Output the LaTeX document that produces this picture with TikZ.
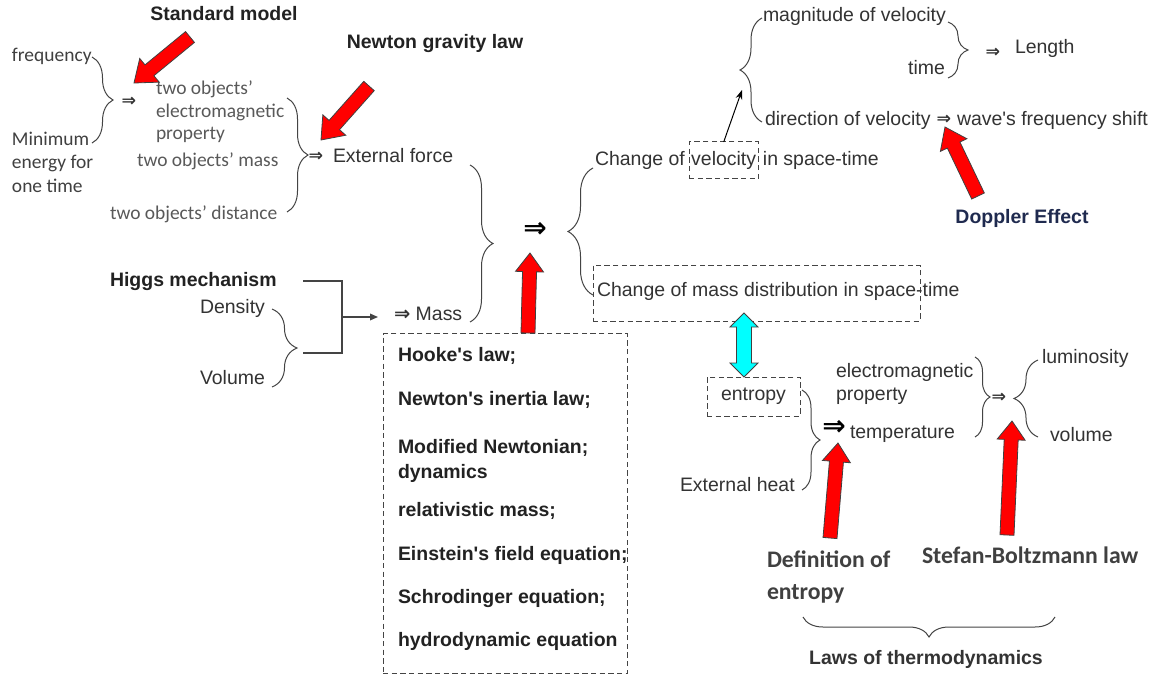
\documentclass[tikz,border=0pt]{standalone}
\usepackage{fontspec}
\setmainfont{Liberation Sans}
\newfontfamily\calfont{Carlito}
\newfontfamily\djfont{DejaVu Sans}
\usetikzlibrary{calc,decorations.pathreplacing,arrows.meta}
\definecolor{txt}{HTML}{333333}
\definecolor{ctxt}{HTML}{595959}
\definecolor{dtxt}{HTML}{404040}
\definecolor{btxt}{HTML}{222222}
\definecolor{navy}{HTML}{1F2A4F}
\definecolor{lines}{HTML}{444444}
\definecolor{redc}{RGB}{255,0,0}
\definecolor{cyanc}{RGB}{0,255,255}
\newcommand{\blockarrow}[6][redarrow]{%
  \coordinate (#2-h) at ($(#3)!#6!(#2)$);
  \filldraw[#1] ($(#2)!#4!90:(#3)$) -- ($(#2-h)!#4!90:(#3)$) -- ($(#2-h)!#5!90:(#3)$) -- (#3)
    -- ($(#2-h)!#5!-90:(#3)$) -- ($(#2-h)!#4!-90:(#3)$) -- ($(#2)!#4!-90:(#3)$) -- cycle;}
\tikzset{
  every node/.style={inner sep=0pt, outer sep=0pt},
  ar/.style={font=\fontsize{14.6}{17.6}\selectfont, text=txt},
  arb/.style={font=\bfseries\fontsize{14.6}{17.6}\selectfont, text=btxt},
  cal/.style={font=\calfont\fontsize{14.6}{16.9}\selectfont, text=ctxt},
  calb/.style={font=\calfont\bfseries\fontsize{17.8}{24}\selectfont, text=dtxt},
  sym/.style={font=\djfont\bfseries\fontsize{13}{13}\selectfont, text=txt},
  bigsym/.style={font=\djfont\bfseries\fontsize{21}{21}\selectfont, text=black},
  brc/.style={draw=lines, line width=0.75pt, decorate, decoration={brace, amplitude=#1}},
  dashbox/.style={draw=lines, line width=0.75pt, dash pattern=on 4pt off 2.5pt},
  conn/.style={draw=lines, line width=0.9pt},
  redarrow/.style={fill=redc, draw=black!75, line width=0.6pt, line join=miter},
  cyanarrow/.style={fill=cyanc, draw=black!75, line width=0.6pt, line join=miter}
}
\begin{document}
\begin{tikzpicture}[x=0.75pt, y=-0.75pt]
\fill[white] (0,0) rectangle (1153,675);
\useasboundingbox (0,0) rectangle (1153,675);

% ---------- top left ----------
\node[arb, anchor=mid] (sm) at (224,17) {Standard model};
\node[cal, text=dtxt, anchor=mid west] (freq) at (12,58) {frequency};
\node[cal, text=dtxt, anchor=north west, align=left, font=\calfont\fontsize{14.6}{17.6}\selectfont] (minen) at (12,132) {Minimum\\energy for\\one time};
\draw[brc=15.75pt] (92,57) -- (92,143);
\node[sym] (r1) at (129,102) {⇒};
\node[cal, anchor=north west, align=left] (emprop) at (156,81) {two objects’\\electromagnetic\\property};
\node[cal, anchor=mid west] (omass) at (137,163) {two objects’ mass};
\node[cal, anchor=mid west] (odist) at (110,216) {two objects’ distance};
\draw[brc=15.75pt] (287,98) -- (287,212);
\node[sym] (r2) at (316,157) {⇒};
\node[ar, anchor=mid west] (ef) at (333,159) {External force};
\node[arb] (ng) at (435,44) {Newton gravity law};
\coordinate (smT) at (190,37); \coordinate (smP) at (134,83);
\blockarrow{smT}{smP}{5.25pt}{11.5pt}{15pt}
\coordinate (ngT) at (369,86); \coordinate (ngP) at (321,140);
\blockarrow{ngT}{ngP}{5.25pt}{11.5pt}{15pt}

% ---------- middle ----------
\draw[brc=17.25pt] (470,165) -- (470,322);
\node[bigsym] (r0) at (535,230) {⇒};
\coordinate (maT) at (528,333); \coordinate (maP) at (530,253);
\blockarrow{maT}{maP}{5.25pt}{10.5pt}{14pt}

\node[arb, anchor=mid west] (higgs) at (110,283) {Higgs mechanism};
\node[ar, anchor=mid west] (dens) at (200,310) {Density};
\node[ar, anchor=mid west] (vol) at (200,381) {Volume};
\draw[brc=18.75pt] (272,309) -- (272,387);
\coordinate (hl) at (303,281);
\coordinate (vl) at (303,353);
\coordinate (jn) at (342,317);
\coordinate (ma) at (378,317);
\draw[conn] (hl) -| (jn) |- (vl);
\draw[conn, -{Triangle[length=6pt,width=5pt]}] (jn) -- (ma);
\node[ar, anchor=mid west] (mass) at (394,317) {{\djfont\bfseries ⇒} Mass};

\node[dashbox, minimum width=183pt, minimum height=255pt] (lawsbox) at (505,503.5) {};
\node[arb, anchor=mid west] (l1) at (398,358) {Hooke\textquotesingle s law;};
\node[arb, anchor=mid west] (l2) at (398,402) {Newton\textquotesingle s inertia law;};
\node[arb, anchor=north west, align=left, font=\bfseries\fontsize{14.6}{18.75}\selectfont] (l3) at (398,439.5) {Modified Newtonian;\\dynamics};
\node[arb, anchor=mid west] (l4) at (398,513) {relativistic mass;};
\node[arb, anchor=mid west] (l5) at (398,557) {Einstein\textquotesingle s field equation;};
\node[arb, anchor=mid west] (l6) at (398,600) {Schrodinger equation;};
\node[arb, anchor=mid west] (l7) at (398,643) {hydrodynamic equation};

% ---------- right top ----------
\draw[brc=18.75pt] (593,295) -- (593,168);
\node[ar, anchor=mid west] (cv1) at (595,162) {Change of};
\node[ar, dashbox, anchor=base west, inner xsep=1.6pt, minimum height=27.75pt] (vel) at ([xshift=3.2pt]cv1.base east) {velocity};
\node[ar, anchor=base west] (cv3) at ([xshift=3.5pt]vel.base east) {in space-time};
\node[dashbox, minimum width=245.25pt, minimum height=42pt] (mdbox) at (756.5,293) {};
\node[ar, anchor=mid west] (cmd) at (597,293) {Change of mass distribution in space-time};

\draw[brc=16.5pt] (762,122) -- (762,18);
\coordinate (vt) at (742,90);
\draw[draw=black, line width=0.75pt, -{Stealth[length=7pt,width=5pt]}] (vel.north) -- (vt);
\node[ar, anchor=mid west] (mag) at (763,18) {magnitude of velocity};
\node[ar, anchor=mid east] (time) at (945,71) {time};
\draw[brc=15pt] (948,22) -- (948,78);
\node[sym] (r3) at (993,53) {⇒};
\node[ar, anchor=mid west] (len) at (1015,50) {Length};
\node[ar, anchor=mid west] (dir) at (765,122) {direction of velocity};
\node[sym] (r4) at (944,120) {⇒};
\node[ar, anchor=mid west] (wave) at (957,122) {wave\textquotesingle s frequency shift};
\coordinate (dpT) at (978,196); \coordinate (dpP) at (945,127);
\blockarrow{dpT}{dpP}{5.25pt}{11pt}{15pt}
\node[arb, text=navy] (dop) at (1022,218) {Doppler Effect};

% ---------- right bottom ----------
\node[ar, dashbox, minimum width=69.75pt, minimum height=29.25pt] (ent) at (753.5,396.5) {entropy};
\coordinate (cyT) at (744,313); \coordinate (cyB) at (744,377);
\coordinate (cyT-h) at ($(cyT)!10.5pt!(cyB)$);
\coordinate (cyB-h) at ($(cyB)!10.5pt!(cyT)$);
\filldraw[cyanarrow] (cyT) -- ($(cyT-h)!10.5pt!90:(cyB)$) -- ($(cyT-h)!5.6pt!90:(cyB)$)
  -- ($(cyB-h)!5.6pt!-90:(cyT)$) -- ($(cyB-h)!10.5pt!-90:(cyT)$) -- (cyB)
  -- ($(cyB-h)!10.5pt!90:(cyT)$) -- ($(cyB-h)!5.6pt!90:(cyT)$)
  -- ($(cyT-h)!5.6pt!-90:(cyB)$) -- ($(cyT-h)!10.5pt!-90:(cyB)$) -- cycle;

\draw[brc=13.5pt] (802,390) -- (802,490);
\node[ar, anchor=mid west] (eh) at (680,488) {External heat};
\node[bigsym] (r5) at (834,428) {⇒};
\node[ar, anchor=mid west] (temp) at (850,435) {temperature};
\node[ar, anchor=north west, align=left] (em2) at (836,363) {electromagnetic\\property};
\draw[brc=11.25pt] (975,357) -- (975,437);
\node[sym] (r6) at (999,398) {⇒};
\draw[brc=18pt] (1038,437) -- (1038,360);
\node[ar, anchor=mid west] (lum) at (1042,360) {luminosity};
\node[ar, anchor=mid west] (volm) at (1050,438) {volume};

\coordinate (deT) at (830,538); \coordinate (deP) at (838,443);
\blockarrow{deT}{deP}{5.25pt}{10.5pt}{14pt}
\coordinate (sbT) at (1007,535); \coordinate (sbP) at (1012,421);
\blockarrow{sbT}{sbP}{5.25pt}{10.5pt}{14pt}
\node[calb, anchor=north west, align=left] (doe) at (767,551) {Definition of\\entropy};
\node[calb, anchor=mid west] (sb) at (922,560) {Stefan-Boltzmann law};
\draw[brc=15pt] (1055,617) -- (803,617);
\node[arb, text=txt] (ltd) at (926,659) {Laws of thermodynamics};
\end{tikzpicture}
\end{document}
